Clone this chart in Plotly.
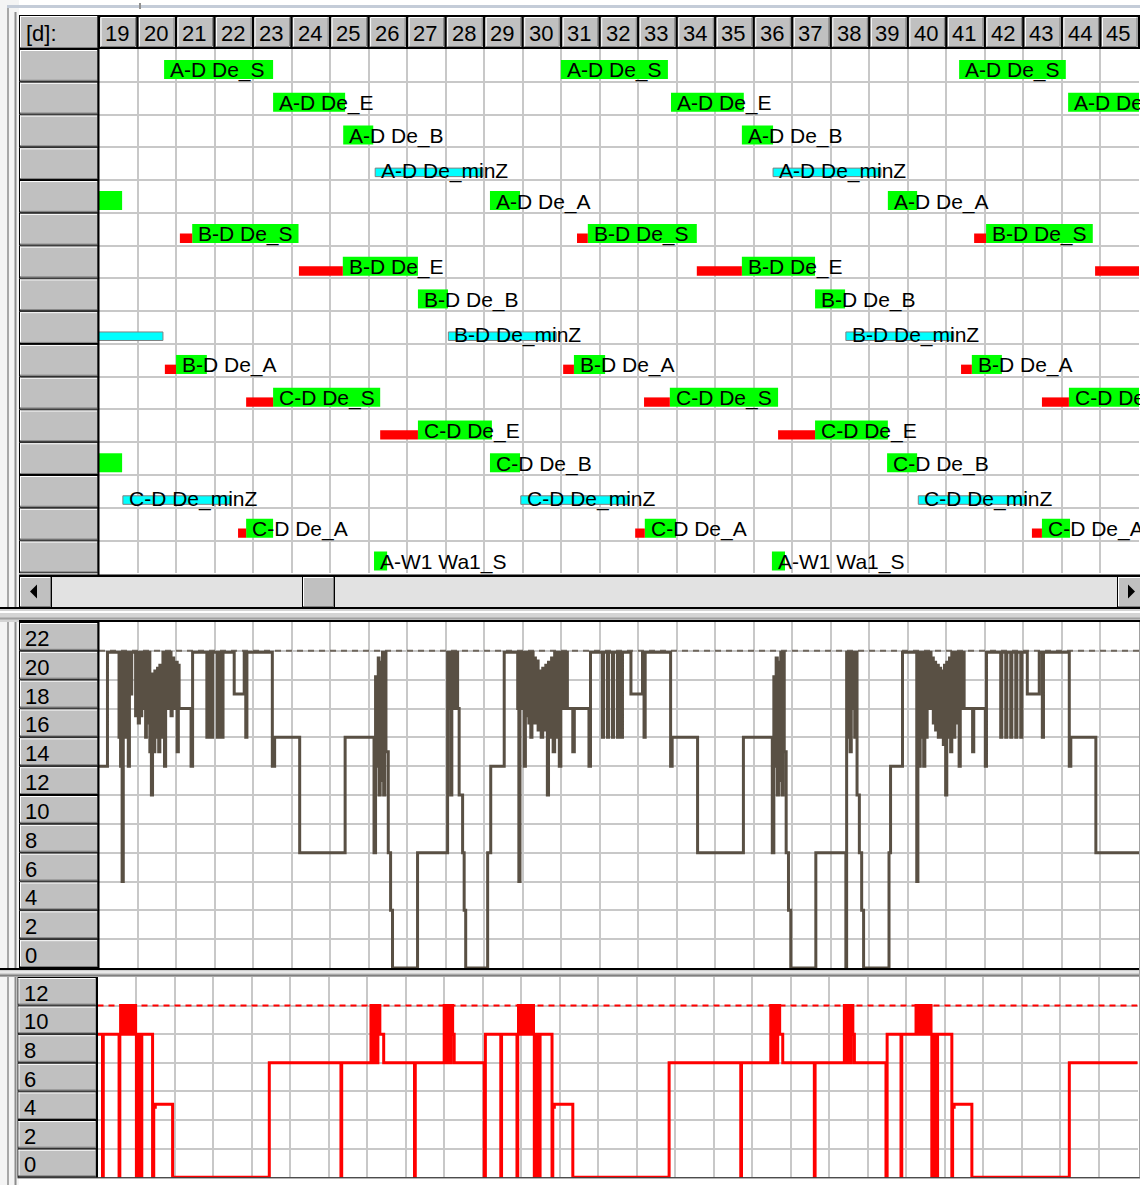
import plotly.graph_objects as go

W, H = 1140, 1185
FONT = "Liberation Sans, Arial, Helvetica, sans-serif"

# ---------------------------------------------------------------- data
DAYS = [19, 20, 21, 22, 23, 24, 25, 26, 27, 28, 29, 30, 31, 32,
        33, 34, 35, 36, 37, 38, 39, 40, 41, 42, 43, 44, 45]

ROWS = ["A-D De_S", "A-D De_E", "A-D De_B", "A-D De_minZ", "A-D De_A",
        "B-D De_S", "B-D De_E", "B-D De_B", "B-D De_minZ", "B-D De_A",
        "C-D De_S", "C-D De_E", "C-D De_B", "C-D De_minZ", "C-D De_A",
        "A-W1 Wa1_S"]

# operations: row index, start day, end day
WORK_ROW = [0, 0, 0, 1, 1, 1, 2, 2,
            4, 4, 4, 5, 5, 5, 6, 6, 6,
            7, 7, 9, 9, 9, 10, 10, 10,
            11, 11, 12, 12, 12, 14, 14, 14,
            15, 15]
WORK_START = [20.69, 30.99, 41.33, 23.52, 33.85, 44.16, 25.34, 35.69,
              18.82, 29.15, 39.48, 21.42, 31.69, 42.03, 25.33, 35.69, 46.02,
              27.28, 37.59, 21.00, 31.33, 41.66, 23.52, 33.82, 44.18,
              27.28, 37.59, 18.82, 29.15, 39.46, 22.82, 33.17, 43.48,
              26.14, 36.47]
WORK_END = [23.52, 33.77, 44.10, 25.39, 35.74, 46.10, 26.12, 36.50,
            19.60, 29.93, 40.24, 24.18, 34.52, 44.80, 27.28, 37.59, 47.90,
            28.06, 38.37, 21.80, 32.14, 42.44, 26.30, 36.63, 46.90,
            29.20, 39.48, 19.60, 29.93, 40.24, 23.52, 33.98, 44.21,
            26.48, 36.81]
# waiting time in front of an operation (None = operation starts directly)
WAIT_START = [None, None, None, None, None, None, None, None,
              None, None, None, 21.10, 31.41, 41.72, 24.19, 34.52, 44.86,
              None, None, 20.71, 31.05, 41.38, 22.82, 33.15, 43.48,
              26.30, 36.63, None, None, None, 22.61, 32.92, 43.22,
              None, None]

# minimum-time windows
MINZ_ROW = [3, 3, 8, 8, 8, 13, 13, 13]
MINZ_START = [26.17, 36.50, 17.86, 28.07, 38.39, 19.62, 29.95, 40.27]
MINZ_END = [28.97, 39.30, 20.66, 30.87, 41.19, 22.42, 32.75, 43.07]

# capacity usage (day, value), stepwise
CAP_LIMIT = 22
CAPACITY = [
    (19.00, 14), (19.22, 21.9), (19.52, 16), (19.54, 21.9), (19.56, 14), (19.58, 21.9),
    (19.60, 6), (19.63, 21.9), (19.65, 16), (19.68, 21.9), (19.71, 16), (19.74, 21.9),
    (19.76, 14), (19.79, 21.9), (19.81, 19), (19.85, 21.9), (19.95, 17.5), (19.98, 21.9),
    (20.02, 17), (20.05, 21.9), (20.08, 17.5), (20.11, 21.9), (20.15, 18), (20.18, 21.9),
    (20.21, 16), (20.23, 21.9), (20.26, 17), (20.29, 21.9), (20.32, 15), (20.34, 20.4),
    (20.36, 12), (20.39, 20.4), (20.42, 15), (20.45, 20.6), (20.48, 16), (20.52, 20.8),
    (20.55, 15), (20.58, 21), (20.62, 16), (20.66, 21.9), (20.70, 14), (20.73, 21.9),
    (20.80, 18), (20.83, 21.9), (20.87, 17.5), (20.90, 21.5), (20.94, 18), (20.98, 21.2),
    (21.03, 15), (21.06, 21.0), (21.08, 18), (21.39, 14), (21.43, 21.9),
    (21.80, 16), (21.83, 21.9), (21.86, 16), (21.89, 21.9), (21.92, 16), (21.95, 21.9),
    (22.07, 16), (22.10, 21.9), (22.13, 16), (22.16, 21.9), (22.19, 16), (22.22, 21.9),
    (22.51, 19), (22.77, 21.9), (22.81, 16), (22.84, 21.9), (23.50, 14), (23.56, 16),
    (24.21, 8), (25.39, 16), (26.14, 8), (26.18, 20.2), (26.22, 14), (26.25, 21.5),
    (26.27, 12), (26.30, 21.2), (26.33, 13), (26.36, 21.9), (26.39, 12), (26.42, 21.9),
    (26.45, 15), (26.51, 8), (26.57, 4), (26.62, 0), (27.27, 8), (28.05, 21.9),
    (28.08, 18), (28.11, 21.9), (28.13, 12), (28.16, 21.9), (28.19, 18), (28.22, 21.9),
    (28.25, 18), (28.28, 21.9), (28.31, 18), (28.35, 12), (28.44, 8), (28.48, 4),
    (28.52, 0), (29.09, 8), (29.17, 14), (29.52, 21.9), (29.87, 18), (29.90, 6),
    (29.93, 21.9), (29.99, 18), (30.02, 21.9), (30.04, 14), (30.07, 21.9), (30.10, 17.5),
    (30.13, 21.9), (30.16, 17), (30.19, 21.9), (30.21, 16), (30.24, 21.9), (30.27, 17),
    (30.30, 21.5), (30.33, 17), (30.36, 21.3), (30.40, 16.5), (30.44, 20.6), (30.48, 16),
    (30.52, 20.8), (30.56, 16.5), (30.60, 21), (30.64, 12), (30.67, 21.2), (30.71, 16),
    (30.75, 21.5), (30.79, 15), (30.83, 21.9), (30.87, 16), (30.91, 21.9), (30.95, 14),
    (30.99, 21.9), (31.03, 18), (31.07, 21.9), (31.10, 18), (31.14, 21.9), (31.16, 18),
    (31.30, 15), (31.34, 18), (31.72, 14), (31.76, 21.9),
    (32.07, 16), (32.10, 21.9), (32.20, 16), (32.23, 21.9), (32.33, 16), (32.36, 21.9),
    (32.46, 16), (32.49, 21.9), (32.56, 16), (32.59, 21.9),
    (32.81, 19), (33.11, 21.9), (33.15, 16), (33.18, 21.9), (33.84, 14), (33.88, 16),
    (34.54, 8), (35.73, 16), (36.48, 8), (36.52, 20.2), (36.55, 14), (36.58, 21.5),
    (36.61, 12), (36.64, 21.2), (36.67, 13), (36.70, 21.9), (36.73, 12), (36.76, 21.9),
    (36.79, 15), (36.84, 8), (36.90, 4), (36.96, 0), (37.61, 8), (38.39, 0),
    (38.41, 21.9), (38.44, 16), (38.47, 21.9), (38.50, 15), (38.53, 21.9), (38.56, 18),
    (38.59, 21.9), (38.62, 16), (38.65, 21.9), (38.68, 12), (38.74, 8), (38.80, 4),
    (38.85, 0), (39.51, 8), (39.55, 14), (39.86, 21.9), (40.23, 6), (40.26, 21.9),
    (40.29, 14), (40.32, 21.9), (40.35, 16), (40.38, 21.9), (40.41, 14), (40.44, 21.9),
    (40.47, 16), (40.50, 21.9), (40.53, 18), (40.56, 21.9), (40.60, 18), (40.63, 21.5),
    (40.66, 17), (40.69, 21.2), (40.72, 16.5), (40.75, 21.0), (40.79, 16), (40.82, 20.8),
    (40.85, 16), (40.88, 20.6), (40.92, 15.5), (40.95, 21.0), (40.98, 12), (41.01, 21.2),
    (41.05, 16), (41.08, 21.5), (41.11, 15), (41.14, 21.9), (41.18, 16), (41.22, 21.9),
    (41.26, 17), (41.30, 21.9), (41.33, 14), (41.36, 21.9), (41.40, 18), (41.43, 21.9),
    (41.46, 18), (41.68, 15), (41.71, 18), (42.01, 14), (42.04, 21.9),
    (42.41, 16), (42.44, 21.9), (42.54, 16), (42.57, 21.9), (42.67, 16), (42.70, 21.9),
    (42.80, 16), (42.83, 21.9), (42.93, 16), (42.96, 21.9),
    (43.10, 19), (43.41, 21.9), (43.49, 16), (43.52, 21.9), (44.19, 14), (44.23, 16),
    (44.88, 8), (46.10, 8),
]

# load of the second resource (day, value), stepwise
LOAD_LIMIT = 12
LOAD = [
    (19.00, 10), (19.13, 0), (19.15, 10),
    (19.56, 0), (19.58, 10), (19.60, 12), (19.63, 10), (19.66, 12), (19.69, 10),
    (19.72, 12), (19.75, 10), (19.78, 12), (19.81, 10), (19.84, 12), (19.87, 10),
    (19.90, 12), (19.93, 10), (19.96, 12), (19.99, 10),
    (20.01, 0), (20.03, 10), (20.05, 0), (20.07, 5), (20.09, 0), (20.11, 10),
    (20.13, 0), (20.15, 10), (20.43, 0), (20.46, 4.9), (20.50, 5.1), (20.95, 0),
    (23.46, 8), (25.32, 0), (25.34, 8),
    (26.10, 12), (26.13, 8), (26.16, 12), (26.19, 8), (26.22, 12), (26.25, 8),
    (26.28, 12), (26.33, 10), (26.43, 8), (27.23, 0), (27.25, 8),
    (28.00, 12), (28.03, 8), (28.06, 12), (28.09, 8), (28.12, 12), (28.15, 8),
    (28.18, 12), (28.22, 10), (28.26, 8),
    (29.04, 0), (29.07, 10), (29.47, 0), (29.49, 10),
    (29.89, 0), (29.91, 10), (29.93, 12), (29.96, 10), (29.99, 12), (30.02, 10),
    (30.05, 12), (30.08, 10), (30.11, 12), (30.14, 10), (30.17, 12), (30.20, 10),
    (30.23, 12), (30.26, 10), (30.29, 12), (30.32, 10),
    (30.34, 0), (30.36, 10), (30.38, 0), (30.40, 5), (30.42, 0), (30.44, 10),
    (30.47, 0), (30.49, 10), (30.80, 0), (30.82, 4.9), (30.86, 5.1), (31.34, 0),
    (33.84, 8), (35.70, 0), (35.72, 8),
    (36.48, 12), (36.51, 8), (36.54, 12), (36.57, 8), (36.60, 12), (36.63, 8),
    (36.66, 12), (36.71, 10), (36.79, 8), (37.61, 0), (37.63, 8),
    (38.39, 12), (38.42, 8), (38.45, 12), (38.48, 8), (38.51, 12), (38.54, 8),
    (38.57, 12), (38.61, 10), (38.65, 8),
    (39.47, 0), (39.50, 10), (39.86, 0), (39.88, 10),
    (40.25, 12), (40.28, 10), (40.31, 12), (40.34, 10), (40.37, 12), (40.40, 10),
    (40.43, 12), (40.46, 10), (40.49, 12), (40.52, 10), (40.55, 12), (40.58, 10),
    (40.61, 12), (40.64, 10),
    (40.66, 0), (40.68, 10), (40.70, 0), (40.72, 5), (40.74, 0), (40.77, 10),
    (40.79, 0), (40.81, 10), (41.18, 0), (41.20, 4.9), (41.24, 5.1), (41.70, 0),
    (44.23, 8), (46.10, 8),
]

CAP_TICKS = [22, 20, 18, 16, 14, 12, 10, 8, 6, 4, 2, 0]
LOAD_TICKS = [12, 10, 8, 6, 4, 2, 0]

# ---------------------------------------------------------------- layout geometry (pixels)
PLOT_L, PLOT_R = 99, 1139
GANTT_T, GANTT_B = 49, 573.3
CAP_T, CAP_B = 622, 968
LOAD_T, LOAD_B = 977, 1177.3
LOAD_L, LOAD_R = 97.5, 1137.5

GRID = "#c8c8c8"
FACE = "#c0c0c0"


def py(y):
    return 1 - y / H


def pxx(x):
    return x / W


shapes = []
annotations = []


def rect(x0, y0, x1, y1, fill, line=None, lw=0):
    shapes.append(dict(type="rect", xref="paper", yref="paper",
                       x0=pxx(x0), x1=pxx(x1), y0=py(y1), y1=py(y0),
                       fillcolor=fill, line=dict(width=lw, color=line or fill),
                       layer="above"))


def seg(x0, y0, x1, y1, color, lw=1):
    shapes.append(dict(type="line", xref="paper", yref="paper",
                       x0=pxx(x0), x1=pxx(x1), y0=py(y0), y1=py(y1),
                       line=dict(width=lw, color=color), layer="above"))


def button(x0, y0, x1, y1):
    rect(x0, y0, x1, y1, "#000000")
    rect(x0 + 1, y0 + 1, x1 - 1, y1 - 1, FACE)
    seg(x0 + 1, y0 + 1.5, x1 - 2, y0 + 1.5, "#ffffff")
    seg(x0 + 1.5, y0 + 1, x0 + 1.5, y1 - 2, "#ffffff")
    seg(x0 + 1, y1 - 1.5, x1 - 1, y1 - 1.5, "#808080")
    seg(x1 - 1.5, y0 + 1, x1 - 1.5, y1 - 1, "#808080")


def label(x, y, text, size=22):
    annotations.append(dict(xref="paper", yref="paper", x=pxx(x), y=py(y),
                            text=text, showarrow=False, xanchor="left",
                            yanchor="middle", font=dict(family=FONT, size=size,
                                                        color="#000000")))


# window frame on the left and top
rect(0, 0, 19, H, "#f4f4f4")
seg(8, 5, 8, H, "#a8a8a8", 2)
seg(15.5, 12, 15.5, H, "#8c8c8c", 2)
seg(7, 6.5, W, 6.5, "#c4ccd8", 3)
seg(140, 3, 140, 9, "#909090", 2)

# header row with the day numbers
rect(19, 15, W, 49, "#000000")
button(19, 15, 99, 49)
label(24, 33, "[d]:")
for d in DAYS:
    shapes.append(dict(type="rect", xref="x", yref="paper", x0=d, x1=d + 1,
                       y0=py(48), y1=py(16), fillcolor=FACE,
                       line=dict(color="#000000", width=2), layer="above"))
    for (anchor, a, b, y0, y1, col) in [
            (d, 2, 2, 18, 46, "#ffffff"), (d, 2, 36, 17.5, 17.5, "#ffffff"),
            (d + 1, -2, -2, 18, 46, "#808080"), (d, 2, 36, 46.5, 46.5, "#808080")]:
        shapes.append(dict(type="line", xref="x", xsizemode="pixel", xanchor=anchor,
                           x0=a, x1=b, yref="paper", y0=py(y0), y1=py(y1),
                           line=dict(color=col, width=1), layer="above"))
    annotations.append(dict(xref="x", yref="paper", x=d, xshift=4, y=py(33),
                            text=str(d), showarrow=False, xanchor="left",
                            yanchor="middle",
                            font=dict(family=FONT, size=22, color="#000000")))

# row header buttons of the gantt
row_h = (GANTT_B - GANTT_T) / len(ROWS)
for i in range(len(ROWS)):
    button(19, GANTT_T + i * row_h, 99, GANTT_T + (i + 1) * row_h)
seg(98.5, 15, 98.5, 576, "#000000", 2)

# horizontal scrollbar
rect(19, 574.5, W, 577, "#000000")
rect(51, 577, 1118, 607, "#e2e2e2")
button(19, 576, 52, 608)
button(302, 576, 335, 608)
button(1117, 576, 1142, 608)
shapes.append(dict(type="path", xref="paper", yref="paper", layer="above",
                   path=f"M{pxx(30)},{py(591.5)} L{pxx(37)},{py(584.5)} "
                        f"L{pxx(37)},{py(598.5)} Z",
                   fillcolor="#000000", line=dict(width=0)))
shapes.append(dict(type="path", xref="paper", yref="paper", layer="above",
                   path=f"M{pxx(1135)},{py(591.5)} L{pxx(1128)},{py(584.5)} "
                        f"L{pxx(1128)},{py(598.5)} Z",
                   fillcolor="#000000", line=dict(width=0)))

# splitter between gantt and capacity chart
rect(0, 607, W, 622, "#d4d4d4")
seg(0, 608, W, 608, "#000000", 2)
seg(0, 612, W, 612, "#ffffff", 2)
seg(0, 618.5, W, 618.5, "#a0a0a0", 2)
seg(19, 621, W, 621, "#000000", 2)

# capacity axis buttons
cap_h = (CAP_B - CAP_T) / len(CAP_TICKS)
for i, v in enumerate(CAP_TICKS):
    button(19, CAP_T + i * cap_h, 99, CAP_T + (i + 1) * cap_h)
    label(23, CAP_T + (i + 0.5) * cap_h + 2, str(v))
seg(98.5, CAP_T, 98.5, CAP_B, "#000000", 2)

# splitter between the two line charts
rect(0, 968, W, 977, "#d0d0d0")
seg(0, 969, W, 969, "#000000", 2)
seg(0, 972, W, 972, "#ffffff", 1)
seg(0, 975.5, W, 975.5, "#808080", 2)

# load axis buttons
load_h = (LOAD_B - LOAD_T) / len(LOAD_TICKS)
for i, v in enumerate(LOAD_TICKS):
    button(17.5, LOAD_T + i * load_h, 97.5, LOAD_T + (i + 1) * load_h)
    label(21.5, LOAD_T + (i + 0.5) * load_h + 2, str(v))
seg(97, LOAD_T, 97, LOAD_B, "#000000", 2)
seg(17.5, LOAD_B + 0.5, W, LOAD_B + 0.5, "#000000", 1)
seg(1139.5, CAP_T, 1139.5, LOAD_B, "#a0a0a0", 1)

# ---------------------------------------------------------------- traces
fig = go.Figure()

green_y = [r + 0.627 for r in WORK_ROW]
fig.add_trace(go.Bar(
    orientation="h", base=WORK_START,
    x=[e - s for s, e in zip(WORK_START, WORK_END)],
    y=green_y, width=[0.58] * len(WORK_ROW),
    marker=dict(color="#00ff00", line=dict(width=0)),
    xaxis="x", yaxis="y", hoverinfo="skip"))

wait_idx = [i for i, w in enumerate(WAIT_START) if w is not None]
fig.add_trace(go.Bar(
    orientation="h", base=[WAIT_START[i] for i in wait_idx],
    x=[WORK_START[i] - WAIT_START[i] for i in wait_idx],
    y=[WORK_ROW[i] + 0.775 for i in wait_idx], width=[0.285] * len(wait_idx),
    marker=dict(color="#ff0000", line=dict(width=0)),
    xaxis="x", yaxis="y", hoverinfo="skip"))

fig.add_trace(go.Bar(
    orientation="h", base=MINZ_START,
    x=[e - s for s, e in zip(MINZ_START, MINZ_END)],
    y=[r + 0.765 for r in MINZ_ROW], width=[0.26] * len(MINZ_ROW),
    marker=dict(color="#00ffff", line=dict(width=1, color="#808080")),
    xaxis="x", yaxis="y", hoverinfo="skip"))

x_lo, x_hi = DAYS[0], DAYS[-1] + 1
for r, s in zip(WORK_ROW, WORK_START):
    if x_lo <= s < x_hi:
        annotations.append(dict(xref="x", yref="y", x=s, xshift=4, y=r + 0.655,
                                text=ROWS[r], showarrow=False, xanchor="left",
                                yanchor="middle",
                                font=dict(family=FONT, size=21, color="#000000")))
for r, s in zip(MINZ_ROW, MINZ_START):
    if x_lo <= s < x_hi:
        annotations.append(dict(xref="x", yref="y", x=s, xshift=4, y=r + 0.72,
                                text=ROWS[r], showarrow=False, xanchor="left",
                                yanchor="middle",
                                font=dict(family=FONT, size=21, color="#000000")))

# limit lines (dashed), drawn beneath the usage curves
fig.add_trace(go.Scatter(
    x=[x_lo, x_hi], y=[CAP_LIMIT, CAP_LIMIT], mode="lines",
    line=dict(color="#6e665c", width=2, dash="6px,5px"),
    xaxis="x2", yaxis="y2", hoverinfo="skip"))
fig.add_trace(go.Scatter(
    x=[x_lo, x_hi], y=[LOAD_LIMIT, LOAD_LIMIT], mode="lines",
    line=dict(color="#ff0000", width=2, dash="6px,5px"),
    xaxis="x3", yaxis="y3", hoverinfo="skip"))

fig.add_trace(go.Scatter(
    x=[t for t, _ in CAPACITY], y=[v for _, v in CAPACITY], mode="lines",
    line=dict(shape="hv", color="#595044", width=3),
    xaxis="x2", yaxis="y2", hoverinfo="skip"))
fig.add_trace(go.Scatter(
    x=[t for t, _ in LOAD], y=[v for _, v in LOAD], mode="lines",
    line=dict(shape="hv", color="#ff0000", width=3),
    xaxis="x3", yaxis="y3", hoverinfo="skip"))

# ---------------------------------------------------------------- axes
common_x = dict(range=[x_lo, x_hi], dtick=1, tick0=x_lo, showgrid=True,
                gridcolor=GRID, gridwidth=2, showticklabels=False, ticks="",
                zeroline=False, showline=False, fixedrange=True)
common_y = dict(showgrid=True, gridcolor=GRID, gridwidth=2, showticklabels=False,
                ticks="", zeroline=False, showline=False, fixedrange=True)

fig.update_layout(
    width=W, height=H, autosize=False,
    margin=dict(l=0, r=0, t=0, b=0, pad=0),
    paper_bgcolor="#ffffff", plot_bgcolor="#ffffff",
    showlegend=False, hovermode=False, barmode="overlay",
    xaxis=dict(domain=[pxx(PLOT_L), pxx(PLOT_R)], anchor="y", **common_x),
    yaxis=dict(domain=[py(GANTT_B), py(GANTT_T)], range=[len(ROWS), 0],
               dtick=1, tick0=0, anchor="x", **common_y),
    xaxis2=dict(domain=[pxx(PLOT_L), pxx(PLOT_R)], anchor="y2", **common_x),
    yaxis2=dict(domain=[py(CAP_B), py(CAP_T)], range=[0, 24], dtick=2, tick0=0,
                anchor="x2", **common_y),
    xaxis3=dict(domain=[pxx(LOAD_L), pxx(LOAD_R)], anchor="y3", **common_x),
    yaxis3=dict(domain=[py(LOAD_B), py(LOAD_T)], range=[0, 14], dtick=2, tick0=0,
                anchor="x3", **common_y),
    shapes=shapes,
    annotations=annotations,
)

fig.write_html("out.html")
